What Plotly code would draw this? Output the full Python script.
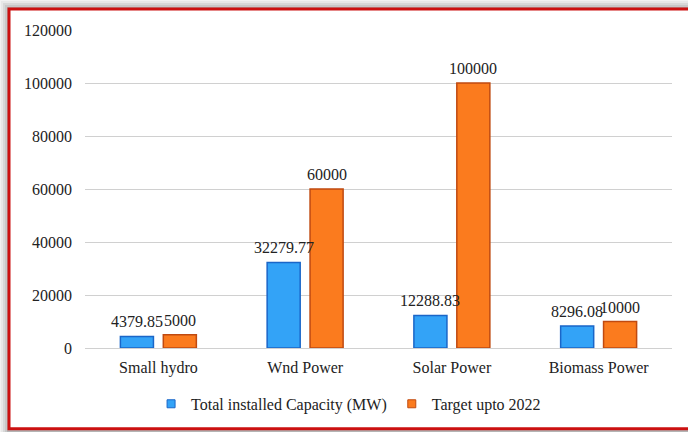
import plotly.graph_objects as go

categories = ["Small hydro", "Wnd Power", "Solar Power", "Biomass Power"]
installed = [4379.85, 32279.77, 12288.83, 8296.08]
target = [5000, 60000, 100000, 10000]
installed_labels = ["4379.85", "32279.77", "12288.83", "8296.08"]
target_labels = ["5000", "60000", "100000", "10000"]
y_ticks = [0, 20000, 40000, 60000, 80000, 100000, 120000]

FONT = "Liberation Serif"
TXT = "#222222"
BLUE, BLUE_EDGE = "#33a3f7", "#1a66c8"
ORANGE, ORANGE_EDGE = "#fb7b1e", "#c04a10"

fig = go.Figure()
fig.add_trace(go.Bar(
    name="Total installed Capacity (MW)", x=categories, y=installed,
    showlegend=False,
    marker=dict(color=BLUE, line=dict(color=BLUE_EDGE, width=1.5)),
))
fig.add_trace(go.Bar(
    name="Target upto 2022", x=categories, y=target,
    showlegend=False,
    marker=dict(color=ORANGE, line=dict(color=ORANGE_EDGE, width=1.5)),
))
# legend entries with small square markers
fig.add_trace(go.Scatter(
    name="Total installed Capacity (MW)", x=[None], y=[None], mode="markers",
    marker=dict(symbol="square", size=8, color=BLUE, line=dict(color=BLUE_EDGE, width=1)),
))
fig.add_trace(go.Scatter(
    name="Target upto 2022", x=[None], y=[None], mode="markers",
    marker=dict(symbol="square", size=8, color=ORANGE, line=dict(color=ORANGE_EDGE, width=1)),
))

W, H = 688, 432
L, R, T, B = 85, 16, 30, 83
pw, ph = W - L - R, H - T - B

# data labels drawn on top of all bars (half-slot offset of grouped bars)
slot_px = pw / len(categories) * (1 - 0.415) / 2
annotations = []
for cat, v, lab in zip(categories, installed, installed_labels):
    annotations.append(dict(x=cat, y=v, xref="x", yref="y", text=lab, showarrow=False,
                            xshift=-slot_px / 2, yanchor="bottom", yshift=4,
                            font=dict(family=FONT, size=16, color=TXT)))
for cat, v, lab in zip(categories, target, target_labels):
    annotations.append(dict(x=cat, y=v, xref="x", yref="y", text=lab, showarrow=False,
                            xshift=slot_px / 2, yanchor="bottom", yshift=4,
                            font=dict(family=FONT, size=16, color=TXT)))

def px(x):
    return (x - L) / pw

def py(y):
    return (H - B - y) / ph

shapes = []
for i, c in enumerate(["#e8e8e8", "#d8d8d8", "#c8c8c8", "#b4b4b4"]):
    off = 8 - 2 * i
    shapes.append(dict(type="rect", xref="paper", yref="paper", layer="below",
                       x0=px(9 - off), x1=px(900), y0=py(600), y1=py(9 - off),
                       fillcolor=c, line=dict(width=0)))
shapes.append(dict(type="rect", xref="paper", yref="paper", layer="below",
                   x0=px(9), x1=px(900), y0=py(430), y1=py(9),
                   fillcolor="white", line=dict(color="#cc1111", width=3)))
shapes.append(dict(type="rect", xref="paper", yref="paper", layer="below",
                   x0=px(11), x1=px(900), y0=py(428), y1=py(11),
                   fillcolor="white", line=dict(width=0)))

fig.update_layout(
    width=W, height=H,
    margin=dict(l=L, r=R, t=T, b=B),
    paper_bgcolor="#f2f2f2", plot_bgcolor="rgba(0,0,0,0)",
    barmode="group", bargap=0.415, bargroupgap=0.23,
    font=dict(family=FONT, size=16, color=TXT),
    shapes=shapes, annotations=annotations,
    showlegend=True,
    legend=dict(orientation="h", x=0.449, xanchor="center", y=-0.172, yanchor="middle",
                font=dict(family=FONT, size=16, color=TXT),
                itemwidth=30, bgcolor="rgba(0,0,0,0)", tracegroupgap=0),
    xaxis=dict(showgrid=False, ticks="", showline=False, ticklabelstandoff=8,
               tickfont=dict(family=FONT, size=16, color=TXT)),
    yaxis=dict(range=[0, 120000], tickvals=y_ticks, ticktext=[str(v) for v in y_ticks],
               showgrid=True, gridcolor="#d0d0d0", gridwidth=1,
               zeroline=True, zerolinecolor="#d0d0d0", zerolinewidth=1,
               ticks="", ticklabelstandoff=12,
               tickfont=dict(family=FONT, size=16, color=TXT)),
)

fig.write_html("out.html")
